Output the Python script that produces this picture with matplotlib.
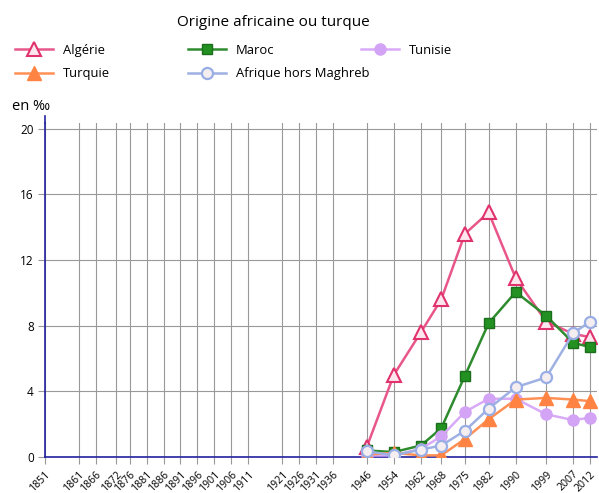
import matplotlib
matplotlib.use("Agg")
import matplotlib.pyplot as plt

plt.rcParams["font.family"] = ["Open Sans", "DejaVu Sans"]

tick_years = [1851, 1861, 1866, 1872, 1876, 1881, 1886, 1891, 1896, 1901,
              1906, 1911, 1921, 1926, 1931, 1936, 1946, 1954, 1962, 1968,
              1975, 1982, 1990, 1999, 2007, 2012]

years = [1946, 1954, 1962, 1968, 1975, 1982, 1990, 1999, 2007, 2012]
algerie = [0.6, 5.0, 7.6, 9.6, 13.6, 14.9, 10.9, 8.25, 7.5, 7.3]
maroc = [0.4, 0.3, 0.7, 1.75, 4.95, 8.15, 10.05, 8.6, 6.95, 6.7]
tunisie = [0.1, 0.1, 0.5, 1.25, 2.75, 3.55, 3.55, 2.6, 2.25, 2.4]
turquie = [0.15, 0.25, 0.1, 0.1, 1.1, 2.3, 3.5, 3.6, 3.5, 3.4]
afrique = [0.35, 0.1, 0.45, 0.7, 1.6, 2.95, 4.25, 4.85, 7.55, 8.25]

fig = plt.figure(figsize=(5.99, 4.93), dpi=100)
ax = fig.add_axes([45 / 599, 36 / 493, 552 / 599, 334 / 493])

ax.plot(years, algerie, color="#e8568a", lw=1.8, marker="^", ms=10,
        mfc="#fde6ee", mec="#e0336e", mew=1.5, label="Algérie", zorder=3)
ax.plot(years, maroc, color="#2e8b2e", lw=1.8, marker="s", ms=7,
        mfc="#229122", mec="#1b6e1b", mew=1.0, label="Maroc", zorder=4)
ax.plot(years, tunisie, color="#d9aaf7", lw=1.8, marker="o", ms=8,
        mfc="#d3a3f5", mec="#d3a3f5", mew=1.0, label="Tunisie", zorder=5)
ax.plot(years, turquie, color="#ff9055", lw=1.8, marker="^", ms=10,
        mfc="#ff8444", mec="#ff8444", mew=1.0, label="Turquie", zorder=6)
ax.plot(years, afrique, color="#9fb0e3", lw=1.8, marker="o", ms=8,
        mfc="#f4eef0", mec="#9aaee6", mew=1.6, label="Afrique hors Maghreb",
        zorder=7)

ax.set_xlim(1851, 2014)
ax.set_ylim(0, 20.35)
ax.set_xticks(tick_years)
ax.set_xticklabels([str(y) for y in tick_years], rotation=45, ha="right",
                   rotation_mode="anchor", fontsize=7.6)
ax.set_yticks([0, 4, 8, 12, 16, 20])
ax.tick_params(axis="y", labelsize=8.5, length=5, color="#999999", pad=3)
ax.tick_params(axis="x", length=5, color="#999999", pad=3.5)
ax.grid(True, color="#999999", lw=0.8)
ax.set_axisbelow(True)

for s in ("top", "right"):
    ax.spines[s].set_visible(False)
for s in ("left", "bottom"):
    ax.spines[s].set_color("#2222a0")
    ax.spines[s].set_linewidth(1.2)
ax.plot([0, 0], [1, 1.02], transform=ax.transAxes, color="#2222a0",
        lw=1.2, clip_on=False)

fig.text(12 / 599, 1 - 106 / 493, "en ‰", fontsize=10.5, va="center")
fig.text(273 / 599, 1 - 22 / 493, "Origine africaine ou turque",
         fontsize=11, ha="center", va="center")

h, l = ax.get_legend_handles_labels()
columns = [([0, 3], 15), ([1, 4], 188), ([2], 361)]
for idx, x0 in columns:
    fig.legend([h[i] for i in idx], [l[i] for i in idx],
               loc="upper left", bbox_to_anchor=(x0 / 599, 1 - 44 / 493),
               borderpad=0, borderaxespad=0, frameon=False,
               fontsize=9.4, handlelength=2.9, handletextpad=0.75,
               labelspacing=0.8)

fig.savefig("out.png", dpi=100)
